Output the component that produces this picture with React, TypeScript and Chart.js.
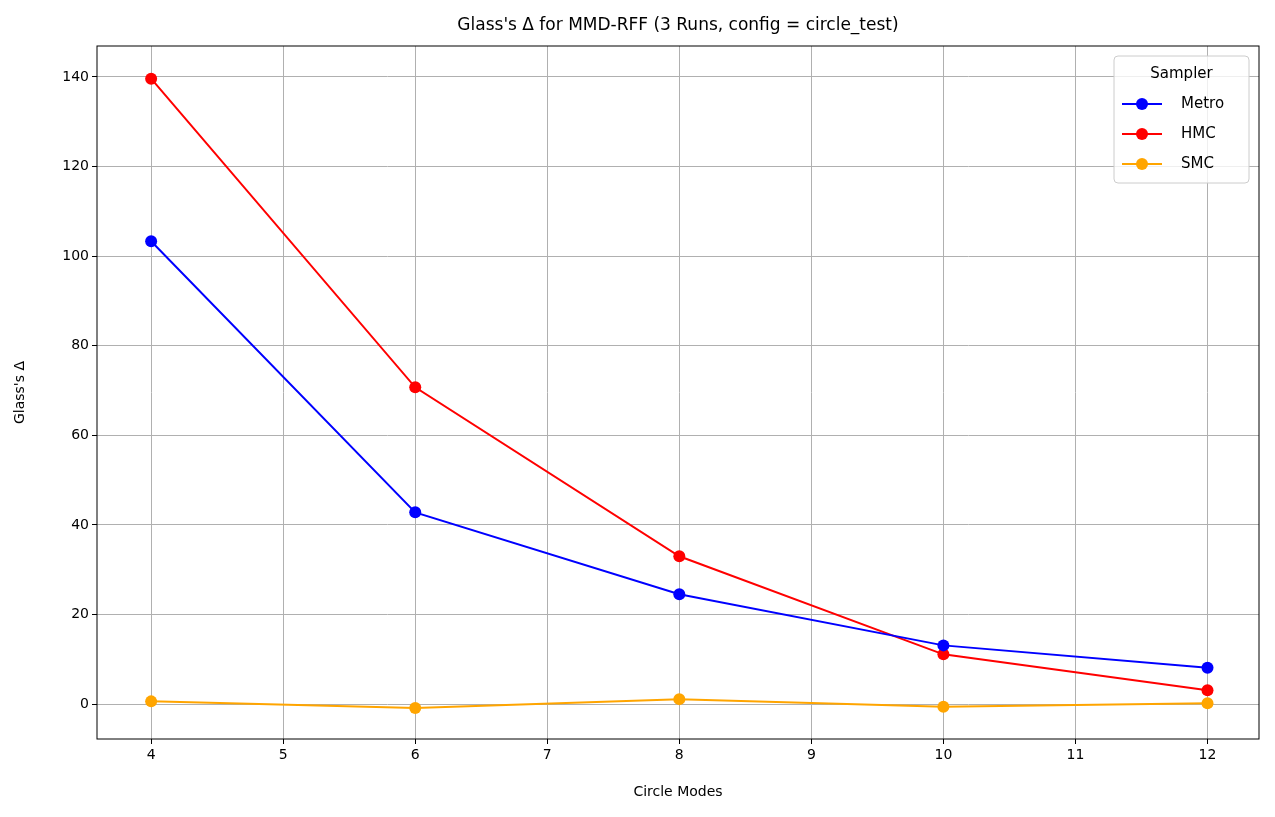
import React, { useEffect, useRef } from "react";
import { Chart, registerables } from "chart.js";
Chart.register(...registerables);

const modes = [4, 6, 8, 10, 12];
const metro = [103.3, 42.8, 24.5, 13.1, 8.1];
const hmc = [139.6, 70.7, 33.0, 11.1, 3.1];
const smc = [0.6, -0.9, 1.1, -0.6, 0.2];
const seriesNames = ["Metro", "HMC", "SMC"];
const seriesColors = ["#0000ff", "#ff0000", "#ffa500"];
const FONT = "'DejaVu Sans', sans-serif";

const overlay = {
  id: "overlay",
  afterDraw(chart: any) {
    const { ctx, chartArea: a } = chart;
    ctx.save();
    ctx.strokeStyle = "#000";
    ctx.lineWidth = 1;
    ctx.strokeRect(a.left, a.top, a.right - a.left, a.bottom - a.top);
    ctx.fillStyle = "#000";
    ctx.font = `17px ${FONT}`;
    ctx.textAlign = "center";
    ctx.textBaseline = "middle";
    ctx.fillText("Glass's Δ for MMD-RFF (3 Runs, config = circle_test)", (a.left + a.right) / 2, 26);
    const w = 135, h = 127, x = a.right - 10 - w, y = a.top + 10;
    ctx.fillStyle = "rgba(255,255,255,0.8)";
    ctx.strokeStyle = "#cccccc";
    ctx.beginPath();
    ctx.roundRect(x, y, w, h, 4);
    ctx.fill();
    ctx.stroke();
    ctx.fillStyle = "#000";
    ctx.font = `15px ${FONT}`;
    ctx.fillText("Sampler", x + w / 2, y + 18);
    ctx.textAlign = "left";
    seriesNames.forEach((n, i) => {
      const yy = y + 48 + i * 30;
      ctx.strokeStyle = seriesColors[i];
      ctx.lineWidth = 2;
      ctx.beginPath();
      ctx.moveTo(x + 8, yy);
      ctx.lineTo(x + 48, yy);
      ctx.stroke();
      ctx.fillStyle = seriesColors[i];
      ctx.beginPath();
      ctx.arc(x + 28, yy, 6, 0, Math.PI * 2);
      ctx.fill();
      ctx.fillStyle = "#000";
      ctx.fillText(n, x + 67, yy);
    });
    ctx.restore();
  },
};

export default function App() {
  const ref = useRef<HTMLCanvasElement>(null);
  useEffect(() => {
    document.body.style.margin = "0";
    const data = [metro, hmc, smc];
    const chart = new Chart(ref.current!, {
      type: "line",
      data: {
        datasets: seriesNames.map((n, i) => ({
          label: n,
          data: modes.map((m, j) => ({ x: m, y: data[i][j] })),
          borderColor: seriesColors[i],
          backgroundColor: seriesColors[i],
          borderWidth: 2,
          pointRadius: 6,
          pointBorderWidth: 0,
        })),
      },
      options: {
        animation: false,
        responsive: false,
        layout: { padding: { top: 46, right: 16, left: 0, bottom: 0 } },
        plugins: { legend: { display: false }, title: { display: false }, tooltip: { enabled: false } },
        scales: {
          x: {
            type: "linear",
            min: 3.59,
            max: 12.39,
            ticks: { stepSize: 1, includeBounds: false, color: "#000", font: { family: FONT, size: 14 } },
            grid: { color: "#b0b0b0", tickColor: "#000", tickLength: 5 },
            border: { display: false },
            title: { display: true, text: "Circle Modes", color: "#000", font: { family: FONT, size: 14 }, padding: { top: 0, bottom: 16 } },
            afterFit: (s: any) => { s.height = 78; },
          },
          y: {
            min: -7.8,
            max: 146.9,
            ticks: { stepSize: 20, includeBounds: false, color: "#000", font: { family: FONT, size: 14 } },
            grid: { color: "#b0b0b0", tickColor: "#000", tickLength: 5 },
            border: { display: false },
            title: { display: true, text: "Glass's Δ", color: "#000", font: { family: FONT, size: 14 }, padding: { top: 12, bottom: 0 } },
            afterFit: (s: any) => { s.width = 97; },
          },
        },
      },
      plugins: [overlay],
    });
    return () => chart.destroy();
  }, []);
  return <canvas ref={ref} width={1275} height={817} style={{ display: "block" }} />;
}
